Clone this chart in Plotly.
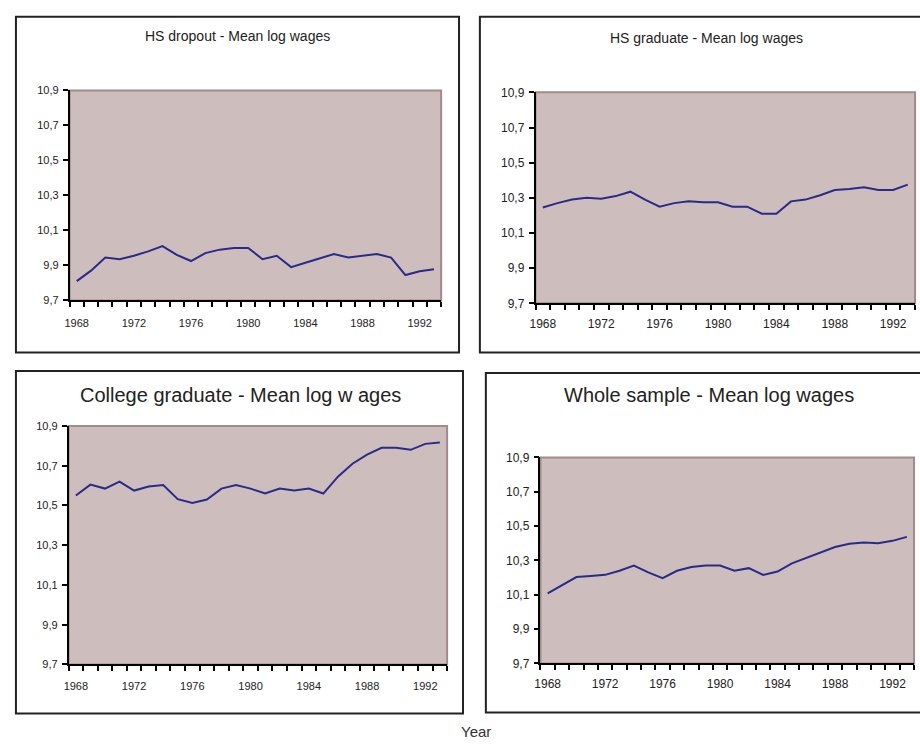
import plotly.graph_objects as go

years = list(range(1968, 1994))

hs_dropout = [9.81, 9.87, 9.945, 9.935, 9.955, 9.98, 10.01, 9.96, 9.925, 9.97,
              9.99, 10.0, 10.0, 9.935, 9.955, 9.89, 9.915, 9.94, 9.965, 9.945,
              9.955, 9.965, 9.945, 9.845, 9.866, 9.878]

hs_graduate = [10.245, 10.27, 10.29, 10.30, 10.295, 10.31, 10.335, 10.29, 10.25, 10.27,
               10.28, 10.275, 10.275, 10.25, 10.25, 10.21, 10.21, 10.28, 10.29, 10.315,
               10.345, 10.35, 10.36, 10.345, 10.345, 10.375]

college_graduate = [10.55, 10.605, 10.585, 10.62, 10.575, 10.595, 10.603, 10.532, 10.513, 10.53,
                    10.585, 10.603, 10.585, 10.56, 10.585, 10.575, 10.585, 10.56, 10.645, 10.71,
                    10.756, 10.79, 10.79, 10.78, 10.81, 10.817]

whole_sample = [10.108, 10.157, 10.203, 10.21, 10.216, 10.24, 10.27, 10.23, 10.197, 10.24,
                10.262, 10.27, 10.27, 10.24, 10.255, 10.216, 10.235, 10.283, 10.315, 10.344,
                10.378, 10.397, 10.405, 10.40, 10.414, 10.437]

titles = ["HS dropout - Mean log wages", "HS graduate - Mean log wages",
          "College graduate - Mean log w ages", "Whole sample - Mean log wages"]
x_tick_labels = ["1968", "1972", "1976", "1980", "1984", "1988", "1992"]
y_tick_values = [9.7, 9.9, 10.1, 10.3, 10.5, 10.7, 10.9]

W, H = 920, 747
FONT = "Liberation Sans"
LINE = "#2A2A88"
BG = "#CDBDBD"
BORDER = "#A08A8E"


def px(x):
    return x / W


def py(y):
    return 1 - y / H


# plot areas (pixel boxes) : x0, x1, y_top, y_bottom
areas = [(64, 438, 85, 299), (533, 915, 87, 302), (63, 444, 427, 670), (538, 914, 459, 669)]
frames = [(10, 456, 10, 352), (477, 930, 10, 352), (10, 460, 371, 720), (483, 930, 373, 719)]
title_pos = [(233, 30, 14), (705, 32, 14), (236, 395, 20), (708, 395, 20)]
tick_sizes = [11, 12, 11, 12]
x_standoff = [12, 9, 11, 8]
series = [hs_dropout, hs_graduate, college_graduate, whole_sample]

fig = go.Figure()
layout = dict(width=W, height=H, autosize=False, margin=dict(l=0, r=0, t=0, b=0, pad=0),
              paper_bgcolor="white", plot_bgcolor=BG, showlegend=False,
              separators=", ", font=dict(family=FONT, color="#222"))
shapes = []
annotations = []

for i, (vals, area) in enumerate(zip(series, areas)):
    n = "" if i == 0 else str(i + 1)
    xa, ya = "x" + n, "y" + n
    fig.add_trace(go.Scatter(x=years, y=vals, mode="lines", xaxis=xa, yaxis=ya,
                             line=dict(color=LINE, width=2), hoverinfo="skip"))
    x0, x1, yt, yb = area
    layout["xaxis" + n] = dict(
        domain=[px(x0), px(x1)], anchor=ya, range=[1967.5, 1993.5],
        tickmode="array", tickvals=[int(t) for t in x_tick_labels], ticktext=x_tick_labels,
        ticks="", showgrid=False, zeroline=False,
        showline=True, linecolor="black", linewidth=1.5,
        ticklabelstandoff=x_standoff[i],
        tickfont=dict(family=FONT, size=tick_sizes[i], color="#222"),
        minor=dict(ticks="outside", tick0=1967.5, dtick=1, ticklen=5,
                   tickcolor="black", tickwidth=1.5, showgrid=False),
        fixedrange=True)
    layout["yaxis" + n] = dict(
        domain=[py(yb), py(yt)], anchor=xa, range=[9.7, 10.9],
        tickmode="array", tickvals=y_tick_values, tickformat=".1f",
        ticks="outside", ticklen=5, tickcolor="black", tickwidth=1.5,
        showgrid=False, zeroline=False,
        showline=True, linecolor="black", linewidth=1.5,
        ticklabelstandoff=2,
        tickfont=dict(family=FONT, size=tick_sizes[i], color="#222"),
        fixedrange=True)
    # top/right mauve border of plot area
    shapes.append(dict(type="rect", xref=xa + " domain", yref=ya + " domain",
                       x0=0, x1=1, y0=0, y1=1, line=dict(color=BORDER, width=2),
                       layer="below"))
    fx0, fx1, fyt, fyb = frames[i]
    shapes.append(dict(type="rect", xref="paper", yref="paper",
                       x0=px(fx0), x1=px(fx1), y0=py(fyb), y1=py(fyt),
                       line=dict(color="#222", width=2), layer="below"))
    tx, ty, ts = title_pos[i]
    annotations.append(dict(text=titles[i], x=px(tx), y=py(ty), xref="paper", yref="paper",
                            showarrow=False, xanchor="center", yanchor="middle",
                            font=dict(family=FONT, size=ts, color="#222")))

annotations.append(dict(text="Year", x=px(473), y=py(738), xref="paper", yref="paper",
                        showarrow=False, xanchor="center", yanchor="middle",
                        font=dict(family=FONT, size=15, color="#333")))

layout["shapes"] = shapes
layout["annotations"] = annotations
fig.update_layout(**layout)
fig.write_html("out.html", config={"displayModeBar": False},
               post_script="document.body.style.margin='0';"
                           "document.body.style.padding='0';"
                           "document.documentElement.style.overflow='hidden';"
                           "document.body.style.overflow='hidden';"
                           "var d=document.getElementById('{plot_id}');"
                           "d.style.position='fixed';d.style.left='0px';d.style.top='0px';")
